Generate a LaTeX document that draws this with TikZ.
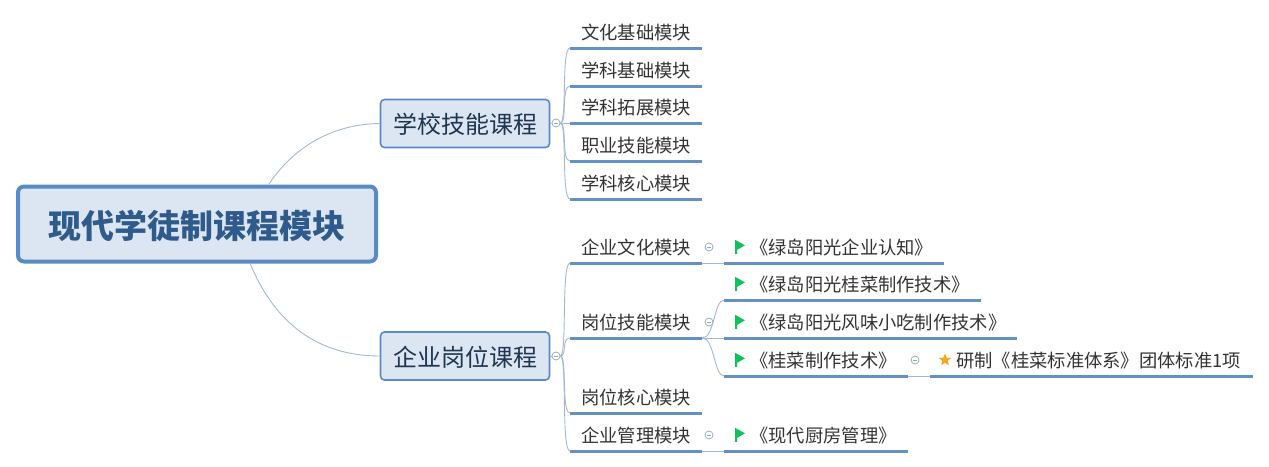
\documentclass[tikz,border=0pt]{standalone}
\usepackage{fontspec}
\usepackage{tikz}
\usetikzlibrary{shapes.geometric}
\setmainfont{Noto Sans CJK SC}
\definecolor{mindBorder}{HTML}{5A8AC6}
\definecolor{mindFill}{HTML}{DCE6F2}
\definecolor{mindTitle}{HTML}{2F5A8C}
\definecolor{mindDark}{HTML}{1F3550}
\definecolor{mindText}{HTML}{333333}
\definecolor{mindLine}{HTML}{6391C5}
\definecolor{thinLine}{HTML}{A3B8D0}
\definecolor{foldBlue}{HTML}{8FA6C4}
\definecolor{flagGreen}{HTML}{12C05C}
\definecolor{starOrange}{HTML}{F5A623}
\tikzset{
  rootNode/.style={draw=mindBorder, fill=mindFill, line width=4pt, rounded corners=6pt, text=mindTitle,
    font=\bfseries\fontsize{33}{38}\selectfont, minimum width=358pt, minimum height=75pt, inner sep=0pt,
    text height=32pt, text depth=3pt},
  branchNode/.style={draw=mindBorder, fill=mindFill, line width=1.6pt, rounded corners=4pt, text=mindDark,
    font=\fontsize{24}{28}\selectfont, minimum width=169pt, minimum height=48pt, inner sep=0pt,
    text height=23pt, text depth=3pt},
  leafNode/.style={anchor=south west, text=mindText, font=\fontsize{18.3}{22}\selectfont, align=left,
    inner xsep=11pt, inner ysep=0pt, minimum height=30pt},
  flagLeaf/.style={leafNode, execute at begin node={\hspace*{15pt}}},
  foldNode/.style={circle, draw=foldBlue, fill=white, line width=0.7pt, minimum size=8pt, inner sep=0pt,
    path picture={\draw[foldBlue, line width=0.7pt] ([xshift=2pt]path picture bounding box.west) -- ([xshift=-2pt]path picture bounding box.east);}},
  starMark/.style={star, star points=5, star point ratio=2.3, fill=starOrange, minimum size=13pt, inner sep=0pt},
  leafLine/.style={mindLine, line width=3pt},
  linkLine/.style={thinLine, line width=0.9pt},
  flagIcon/.pic={
    \fill[flagGreen] (0,-7) -- (10,-1.5) -- (2.2,3) -- (2.2,7) -- (0,7) -- cycle;
  }
}
\begin{document}
\begin{tikzpicture}[x=1pt,y=-1pt]
  \useasboundingbox (0,0) rectangle (1269,466);
  % centre and main branches
  \node[rootNode] (rootTitle) at (197,224) {现代学徒制课程模块};
  \node[branchNode] (schoolCourse) at (465,123.5) {学校技能课程};
  \node[branchNode] (companyCourse) at (465,356) {企业岗位课程};
  \coordinate (rootUp) at (269,184);
  \coordinate (rootDown) at (250,263);
  \draw[linkLine] (rootUp) .. controls (295,145) and (335,124) .. (schoolCourse.west);
  \draw[linkLine] (rootDown) .. controls (275,325) and (320,356) .. (companyCourse.west);
  % fold marks
  \node[foldNode] (schoolFold) at (556,123) {};
  \node[foldNode] (companyFold) at (556,356) {};
  \node[foldNode] (cultureFold) at (709,247) {};
  \node[foldNode] (skillFold) at (709,322) {};
  \node[foldNode] (manageFold) at (709,435) {};
  \node[foldNode] (cookFold) at (915,360) {};
  \draw[linkLine] (schoolCourse.east) -- (schoolFold.west);
  \draw[linkLine] (companyCourse.east) -- (companyFold.west);
  % school modules
  \node[leafNode, text width=110pt] (cultureBase) at (570,48) {文化基础模块};
  \node[leafNode, text width=110pt] (subjectBase) at (570,86) {学科基础模块};
  \node[leafNode, text width=110pt] (subjectExt) at (570,123) {学科拓展模块};
  \node[leafNode, text width=110pt] (jobSkillBase) at (570,161) {职业技能模块};
  \node[leafNode, text width=110pt] (subjectCore) at (570,199) {学科核心模块};
  % company modules
  \node[leafNode, text width=110pt] (companyCulture) at (570,263) {企业文化模块};
  \node[leafNode, text width=110pt] (jobSkill) at (570,338) {岗位技能模块};
  \node[leafNode, text width=110pt] (jobCore) at (570,413) {岗位核心模块};
  \node[leafNode, text width=110pt] (companyManage) at (570,451) {企业管理模块};
  % course leaves
  \node[flagLeaf, text width=198pt] (cultureBook) at (724,263) {《绿岛阳光企业认知》};
  \node[flagLeaf, text width=235pt] (cabbageBook) at (724,300) {《绿岛阳光桂菜制作技术》};
  \node[flagLeaf, text width=271pt] (snackBook) at (724,338) {《绿岛阳光风味小吃制作技术》};
  \node[flagLeaf, text width=162pt] (cookBook) at (724,376) {《桂菜制作技术》};
  \node[flagLeaf, text width=162pt] (kitchenBook) at (724,451) {《现代厨房管理》};
  \node[leafNode, text width=323pt, inner xsep=0pt, execute at begin node={\hspace*{26pt}}] (standardTask) at (930,376) {研制《桂菜标准体系》团体标准1项};
  \pic at ([xshift=11pt,yshift=1pt]cultureBook.west) {flagIcon};
  \pic at ([xshift=11pt,yshift=1pt]cabbageBook.west) {flagIcon};
  \pic at ([xshift=11pt,yshift=1pt]snackBook.west) {flagIcon};
  \pic at ([xshift=11pt,yshift=1pt]cookBook.west) {flagIcon};
  \pic at ([xshift=11pt,yshift=1pt]kitchenBook.west) {flagIcon};
  \node[starMark] (standardStar) at (945,360) {};
  % underlines
  \draw[leafLine] (cultureBase.south west) -- (cultureBase.south east);
  \draw[leafLine] (subjectBase.south west) -- (subjectBase.south east);
  \draw[leafLine] (subjectExt.south west) -- (subjectExt.south east);
  \draw[leafLine] (jobSkillBase.south west) -- (jobSkillBase.south east);
  \draw[leafLine] (subjectCore.south west) -- (subjectCore.south east);
  \draw[leafLine] (companyCulture.south west) -- (companyCulture.south east);
  \draw[leafLine] (jobSkill.south west) -- (jobSkill.south east);
  \draw[leafLine] (jobCore.south west) -- (jobCore.south east);
  \draw[leafLine] (companyManage.south west) -- (companyManage.south east);
  \draw[leafLine] (cultureBook.south west) -- (cultureBook.south east);
  \draw[leafLine] (cabbageBook.south west) -- (cabbageBook.south east);
  \draw[leafLine] (snackBook.south west) -- (snackBook.south east);
  \draw[leafLine] (cookBook.south west) -- (cookBook.south east);
  \draw[leafLine] (kitchenBook.south west) -- (kitchenBook.south east);
  \draw[leafLine] (standardTask.south west) -- (standardTask.south east);
  % links
  \draw[linkLine] (schoolFold.east) .. controls +(7,0) and +(-9,0) .. (cultureBase.south west);
  \draw[linkLine] (schoolFold.east) .. controls +(7,0) and +(-9,0) .. (subjectBase.south west);
  \draw[linkLine] (schoolFold.east) -- (subjectExt.south west);
  \draw[linkLine] (schoolFold.east) .. controls +(7,0) and +(-9,0) .. (jobSkillBase.south west);
  \draw[linkLine] (schoolFold.east) .. controls +(7,0) and +(-9,0) .. (subjectCore.south west);
  \draw[linkLine] (companyFold.east) .. controls +(7,0) and +(-9,0) .. (companyCulture.south west);
  \draw[linkLine] (companyFold.east) .. controls +(7,0) and +(-9,0) .. (jobSkill.south west);
  \draw[linkLine] (companyFold.east) .. controls +(7,0) and +(-9,0) .. (jobCore.south west);
  \draw[linkLine] (companyFold.east) .. controls +(7,0) and +(-9,0) .. (companyManage.south west);
  \draw[linkLine] (companyCulture.south east) -- (cultureBook.south west);
  \draw[linkLine] (jobSkill.south east) .. controls +(12,0) and +(-10,0) .. (cabbageBook.south west);
  \draw[linkLine] (jobSkill.south east) -- (snackBook.south west);
  \draw[linkLine] (jobSkill.south east) .. controls +(12,0) and +(-10,0) .. (cookBook.south west);
  \draw[linkLine] (companyManage.south east) -- (kitchenBook.south west);
  \draw[linkLine] (cookBook.south east) -- (standardTask.south west);
\end{tikzpicture}
\end{document}
